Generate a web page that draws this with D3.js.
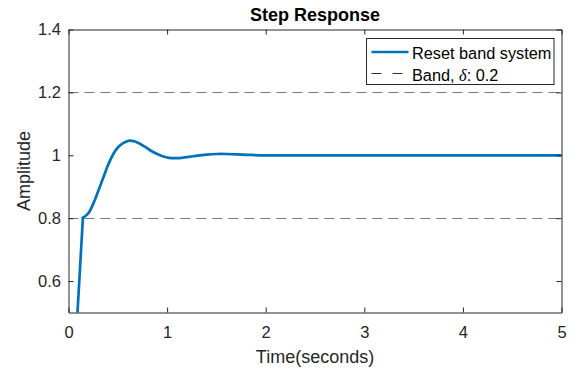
<!DOCTYPE html>
<html>
<head>
<meta charset="utf-8">
<script src="https://cdn.jsdelivr.net/npm/d3@7"></script>
<style>
  html, body { margin: 0; padding: 0; background: #fff; }
  svg { display: block; font-family: "Liberation Sans", Arial, Helvetica, sans-serif; }
</style>
</head>
<body>
<svg id="chart" width="576" height="369"></svg>
<script>
// Step response: initial reset jump (time in seconds, amplitude)
const jumpTimes = [0, 0.146];
const jumpAmplitudes = [0, 0.801];

// Step response: smooth settling after the jump
const settleTimes = [0.146, 0.2, 0.253, 0.3, 0.355, 0.4, 0.456, 0.507, 0.55, 0.608, 0.66, 0.709, 0.77, 0.828, 0.9, 0.963, 1.02, 1.081, 1.15, 1.267, 1.4, 1.504, 1.6, 1.706, 1.85, 2.0, 2.5, 3, 4, 5];
const settleAmplitudes = [0.801, 0.815, 0.847, 0.885, 0.931, 0.968, 1.005, 1.027, 1.038, 1.046, 1.045, 1.039, 1.028, 1.016, 1.004, 0.996, 0.992, 0.991, 0.992, 0.997, 1.002, 1.004, 1.004, 1.003, 1.001, 1.0, 1.0, 1.0, 1.0, 1.0];

// Band limits around the final value
const bandLevels = [1.2, 0.8];
const bandDelta = 0.2;

// Axis ticks
const xTicks = [0, 1, 2, 3, 4, 5];
const yTicks = [0.6, 0.8, 1, 1.2, 1.4];
const xDomain = [0, 5];
const yDomain = [0.5, 1.4];

const seriesName = "Reset band system";
const titleText = "Step Response";
const xLabel = "Time(seconds)";
const yLabel = "Amplitude";

const svg = d3.select("#chart");
const plotLeft = 68.5, plotRight = 561.5, plotTop = 29.5, plotBottom = 312.5;

const x = d3.scaleLinear().domain(xDomain).range([plotLeft, plotRight]);
const y = d3.scaleLinear().domain(yDomain).range([plotBottom, plotTop]);

const axisColor = "#262626";
const blue = "#0072BD";
const tickLen = 5;

// clip region for data
svg.append("defs").append("clipPath").attr("id", "plotClip")
  .append("rect").attr("x", plotLeft).attr("y", plotTop)
  .attr("width", plotRight - plotLeft).attr("height", plotBottom - plotTop);

const plot = svg.append("g").attr("clip-path", "url(#plotClip)");

// band lines
plot.selectAll("line.band").data(bandLevels).join("line")
  .attr("class", "band")
  .attr("x1", plotLeft).attr("x2", plotRight)
  .attr("y1", d => Math.round(y(d)) + 0.5).attr("y2", d => Math.round(y(d)) + 0.5)
  .attr("stroke", "#7a7a7a").attr("stroke-width", 1.2)
  .attr("stroke-dasharray", "10,6");

// response curve: straight jump, then smooth settling
const jumpPts = jumpTimes.map((t, i) => [t, jumpAmplitudes[i]]);
const settlePts = settleTimes.map((t, i) => [t, settleAmplitudes[i]]);
const jumpLine = d3.line().x(d => x(d[0])).y(d => y(d[1])).curve(d3.curveLinear);
const settleLine = d3.line().x(d => x(d[0])).y(d => y(d[1])).curve(d3.curveCatmullRom.alpha(0.5));

plot.append("path").datum(jumpPts).attr("d", jumpLine)
  .attr("fill", "none").attr("stroke", blue)
  .attr("stroke-width", 2.7).attr("stroke-linecap", "round");
plot.append("path").datum(settlePts).attr("d", settleLine)
  .attr("fill", "none").attr("stroke", blue)
  .attr("stroke-width", 2.7).attr("stroke-linejoin", "round").attr("stroke-linecap", "round");

// axes with inward ticks
const xAxisB = d3.axisBottom(x).tickValues(xTicks).tickFormat(d3.format("d"))
  .tickSizeInner(-tickLen).tickSizeOuter(0).tickPadding(14);
const xAxisT = d3.axisTop(x).tickValues(xTicks).tickFormat("")
  .tickSizeInner(-tickLen).tickSizeOuter(0);
const yAxisL = d3.axisLeft(y).tickValues(yTicks).tickFormat(d => d === 1 ? "1" : d3.format(".1f")(d))
  .tickSizeInner(-tickLen).tickSizeOuter(0).tickPadding(7.5);
const yAxisR = d3.axisRight(y).tickValues(yTicks).tickFormat("")
  .tickSizeInner(-tickLen).tickSizeOuter(0);

function styleAxis(g) {
  g.select(".domain").attr("stroke", axisColor).attr("stroke-width", 1);
  g.selectAll(".tick line").attr("stroke", axisColor).attr("stroke-width", 1);
  g.selectAll(".tick text").attr("fill", axisColor)
    .style("font-size", "16.5px").style("font-family", "'Liberation Sans', Arial, sans-serif");
}

svg.append("g").attr("transform", `translate(0,${plotBottom})`).call(xAxisB).call(styleAxis);
svg.append("g").attr("transform", `translate(0,${plotTop})`).call(xAxisT).call(styleAxis);
svg.append("g").attr("transform", `translate(${plotLeft},0)`).call(yAxisL).call(styleAxis);
svg.append("g").attr("transform", `translate(${plotRight},0)`).call(yAxisR).call(styleAxis);

// title and labels
svg.append("text").attr("x", (plotLeft + plotRight) / 2).attr("y", 20.5)
  .attr("text-anchor", "middle").attr("font-weight", "bold")
  .attr("font-size", 18).attr("fill", "#000").text(titleText);

svg.append("text").attr("x", (plotLeft + plotRight) / 2).attr("y", 363)
  .attr("text-anchor", "middle").attr("font-size", 18).attr("fill", axisColor).text(xLabel);

svg.append("text").attr("transform", `translate(29.5,${(plotTop + plotBottom) / 2}) rotate(-90)`)
  .attr("text-anchor", "middle").attr("font-size", 18).attr("fill", axisColor).text(yLabel);

// legend
const lg = svg.append("g");
const lx = 366.5, ly = 38.5, lw = 187.5, lh = 46;
lg.append("rect").attr("x", lx).attr("y", ly).attr("width", lw).attr("height", lh)
  .attr("fill", "#fff").attr("stroke", axisColor).attr("stroke-width", 1);
lg.append("line").attr("x1", lx + 5).attr("x2", lx + 42)
  .attr("y1", 52).attr("y2", 52)
  .attr("stroke", blue).attr("stroke-width", 2.7);
lg.append("text").attr("x", lx + 45.5).attr("y", 58.5)
  .attr("font-size", 16.3).attr("fill", "#000").text(seriesName);
lg.append("line").attr("x1", lx + 5).attr("x2", lx + 37)
  .attr("y1", 73.5).attr("y2", 73.5)
  .attr("stroke", "#333").attr("stroke-width", 1)
  .attr("stroke-dasharray", "10,11");
const t2 = lg.append("text").attr("x", lx + 45.5).attr("y", 80.5)
  .attr("font-size", 16.3).attr("fill", "#000");
t2.append("tspan").text("Band, ");
t2.append("tspan").attr("font-style", "italic")
  .attr("font-family", "'Liberation Serif', 'DejaVu Serif', serif").text("δ");
t2.append("tspan").text(": " + bandDelta);
</script>
</body>
</html>
